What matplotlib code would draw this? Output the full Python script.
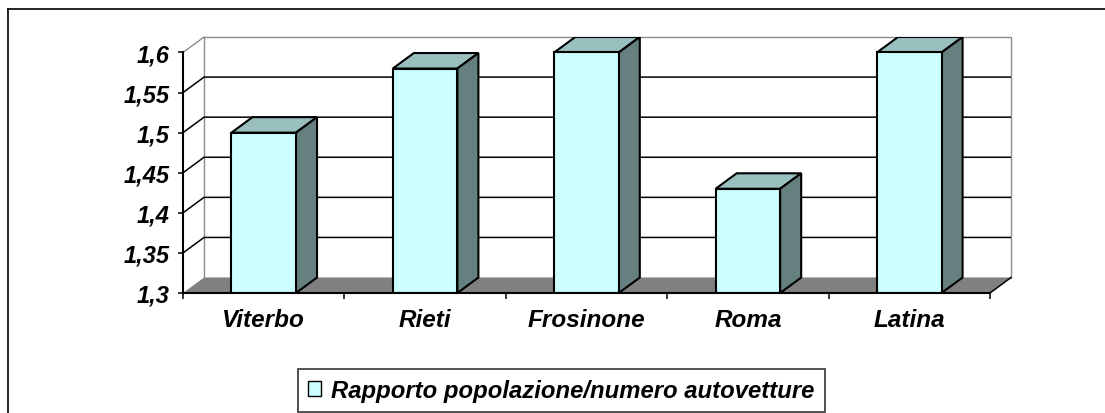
import matplotlib
matplotlib.use("Agg")
import matplotlib.pyplot as plt
from matplotlib.patches import Polygon, Patch
from matplotlib.lines import Line2D
import numpy as np

# ---- data ----
categories = ["Viterbo", "Rieti", "Frosinone", "Roma", "Latina"]
values = [1.50, 1.58, 1.60, 1.43, 1.60]
y_ticks = [1.3, 1.35, 1.4, 1.45, 1.5, 1.55, 1.6]
y_tick_labels = ["1,3", "1,35", "1,4", "1,45", "1,5", "1,55", "1,6"]
series_name = "Rapporto popolazione/numero autovetture"

# ---- style ----
FRONT = "#CCFFFF"
TOP = "#99BFBF"
SIDE = "#668080"
FLOOR = "#808080"
WALL_EDGE = "#8C8C8C"
XFONT = dict(family="Liberation Sans", weight="bold", style="italic", size=17.5)
YFONT = dict(family="Liberation Sans", weight="bold", style="italic", size=17)

W, H = 1105, 414
fig = plt.figure(figsize=(W / 100, H / 100), dpi=100)
fig.patch.set_facecolor("white")

# outer frame (left and top border only visible)
fig.add_artist(Line2D([8 / W, 8 / W], [0, 1 - 10 / H], color="black", lw=1.2))
fig.add_artist(Line2D([8 / W, 1], [1 - 10 / H, 1 - 10 / H], color="black", lw=1.2))

ymin, ymax = y_ticks[0], y_ticks[-1]
n = len(categories)
dx = 0.1304          # depth offset in category units
dy = 0.0193          # depth offset in value units
bw = 0.40            # bar width

left_px, right_px, top_px, bottom_px = 183, 1011, 38, 294
ax = fig.add_axes([left_px / W, 1 - bottom_px / H,
                   (right_px - left_px) / W, (bottom_px - top_px) / H])
ax.set_xlim(-0.5, n - 0.5 + dx)
ax.set_ylim(ymin, ymax + dy)
ax.patch.set_visible(False)
for s in ["top", "right"]:
    ax.spines[s].set_visible(False)

x0, x1 = -0.5, n - 0.5

# left wall
ax.add_patch(Polygon([(x0, ymin), (x0 + dx, ymin + dy), (x0 + dx, ymax + dy), (x0, ymax)],
                     closed=True, facecolor="white", edgecolor="none", zorder=1))
ax.plot([x0, x0 + dx], [ymax, ymax + dy], color=WALL_EDGE, lw=1.0, zorder=2, clip_on=False)
# back wall
ax.add_patch(Polygon([(x0 + dx, ymin + dy), (x1 + dx, ymin + dy), (x1 + dx, ymax + dy), (x0 + dx, ymax + dy)],
                     closed=True, facecolor="white", edgecolor=WALL_EDGE, lw=1.0, zorder=1, clip_on=False))
# gridlines
for v in y_ticks[1:-1]:
    ax.plot([x0, x0 + dx, x1 + dx], [v, v + dy, v + dy], color="black", lw=1.1, zorder=2,
            solid_joinstyle="miter")
# floor
ax.add_patch(Polygon([(x0, ymin), (x1, ymin), (x1 + dx, ymin + dy), (x0 + dx, ymin + dy)],
                     closed=True, facecolor=FLOOR, edgecolor="none", zorder=3, clip_on=False))
ax.plot([x1, x1 + dx], [ymin, ymin + dy], color="black", lw=1.1, zorder=3, clip_on=False)

# bars
xs = np.arange(n)
heights = [v - ymin for v in values]
bars = ax.bar(xs, heights, bottom=ymin, width=bw, color=FRONT, edgecolor="black",
              linewidth=1.5, zorder=6, label=series_name)
for xc, v in zip(xs, values):
    xl, xr = xc - bw / 2, xc + bw / 2
    ax.add_patch(Polygon([(xl, v), (xr, v), (xr + dx, v + dy), (xl + dx, v + dy)], closed=True,
                         facecolor=TOP, edgecolor="black", lw=1.5, zorder=5, joinstyle="miter"))
    ax.add_patch(Polygon([(xr, ymin), (xr + dx, ymin + dy), (xr + dx, v + dy), (xr, v)], closed=True,
                         facecolor=SIDE, edgecolor="black", lw=1.5, zorder=5, joinstyle="miter"))

# axes lines
ax.spines["left"].set_bounds(ymin, ymax)
ax.spines["bottom"].set_bounds(x0, x1)
for s in ["left", "bottom"]:
    ax.spines[s].set_linewidth(1.5)
    ax.spines[s].set_zorder(7)

ax.set_yticks(y_ticks)
ax.set_yticklabels(y_tick_labels, fontdict=YFONT)
ax.tick_params(axis="y", direction="out", length=3.8, width=1.1, pad=6.0)

ax.set_xticks(np.arange(n + 1) - 0.5)
ax.set_xticklabels([])
ax.set_xticks(xs, minor=True)
ax.set_xticklabels(categories, minor=True, fontdict=XFONT)
ax.tick_params(axis="x", which="major", direction="out", length=4.5, width=1.1)
ax.tick_params(axis="x", which="minor", length=0, pad=11)

# legend
leg = fig.legend(handles=[Patch(facecolor=FRONT, edgecolor="black", lw=1.0, label=series_name)],
                 loc="upper left", bbox_to_anchor=(298 / W, 1 - 370 / H),
                 prop=dict(family="Liberation Sans", weight="bold", style="italic", size=17.2),
                 frameon=True, fancybox=False, shadow=False, edgecolor="black",
                 handlelength=0.55, handleheight=0.55, handletextpad=0.42,
                 borderpad=0.42, borderaxespad=0.0)
leg.get_frame().set_linewidth(1.2)

fig.savefig("out.png", dpi=100, facecolor="white")
